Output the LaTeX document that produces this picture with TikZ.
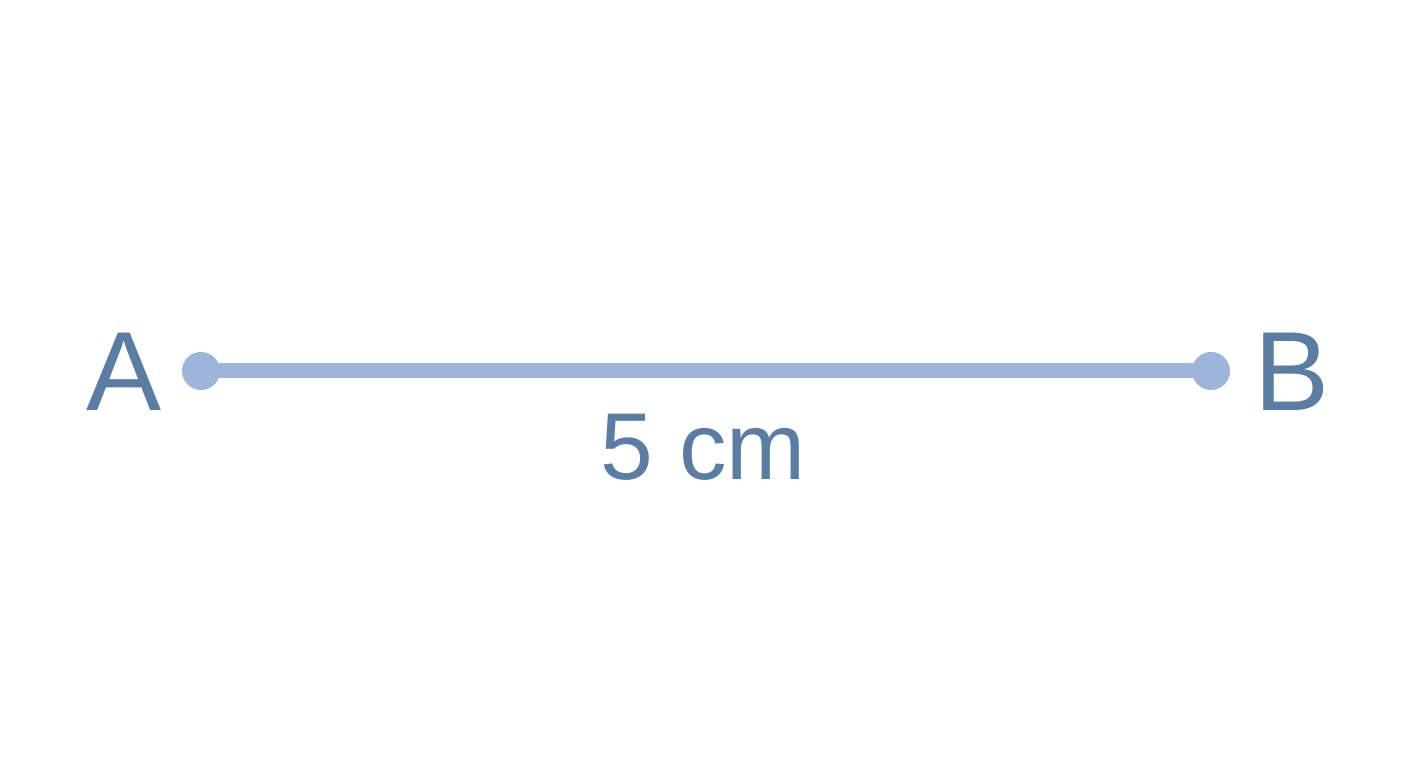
\documentclass[tikz,border=0pt]{standalone}
\usepackage{fontspec}
\setmainfont{Liberation Sans}
\usepackage{tikz}
\usepackage{color}
\definecolor{segline}{HTML}{9DB5D8}
\definecolor{labtext}{HTML}{5A7DA3}

\begin{document}
\begin{tikzpicture}[x=0.01cm,y=0.01cm]
	\useasboundingbox (0,0) rectangle (1408,768);
	\tikzset{pt/.style={circle, fill=segline, inner sep=0, minimum size=0.38cm},
		lab/.style={text=labtext, inner sep=0, font=\fontsize{32}{32}\selectfont}}
	\node[pt] (a) at (201,397) {};
	\node[pt] (b) at (1211,397) {};
	\draw[segline, line width=0.15cm] (a.center) -- (b.center);
	\node[lab, anchor=base] (la) at (124,357) {A};
	\node[lab, anchor=base] (lb) at (1292,357) {B};
	\node[lab, anchor=base, font=\fontsize{27}{27}\selectfont] (len) at (703,288) {5 cm};
\end{tikzpicture}
\end{document}
